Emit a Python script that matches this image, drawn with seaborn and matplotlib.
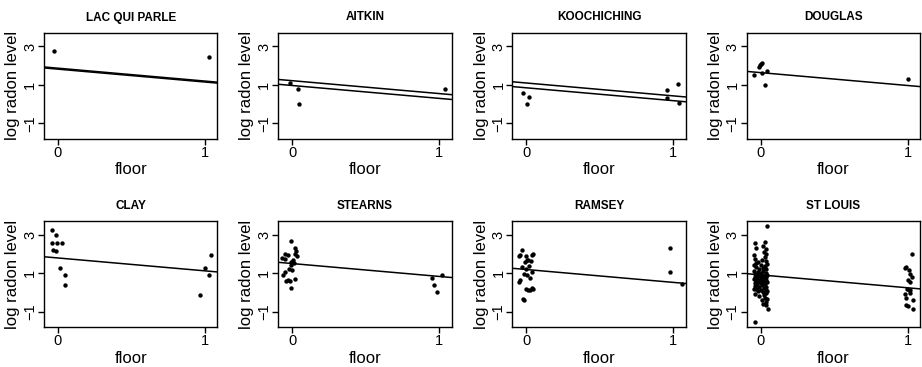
import pandas as pd
import seaborn as sns
import matplotlib.pyplot as plt

# county panels, in reading order
counties = ["LAC QUI PARLE", "AITKIN", "KOOCHICHING", "DOUGLAS",
            "CLAY", "STEARNS", "RAMSEY", "ST LOUIS"]

# fitted lines (intercepts, common slope); second line only where shown
line_a = [1.87, 1.22, 1.10, 1.64, 1.79, 1.50, 1.19, 0.91]
line_b = [1.82, 0.97, 0.85, None, None, None, None, None]
slope = -0.67

# jittered floor / log radon per county
lqp_floor = [-0.025, 1.03]
lqp_radon = [2.75, 2.44]

aitkin_floor = [-0.015, 0.04, 0.05, 1.04]
aitkin_radon = [1.09, 0.77, 0.02, 0.81]

kooch_floor = [-0.02, 0.02, 0.005, 0.96, 1.03, 0.96, 1.04]
kooch_radon = [0.56, 0.35, 0.02, 0.72, 1.07, 0.30, 0.04]

douglas_floor = [-0.046, -0.01, 0.0, 0.01, -0.005, 0.01, 0.046, 0.03, 1.0]
douglas_radon = [1.53, 1.95, 2.08, 2.12, 2.02, 1.60, 1.70, 1.02, 1.33]

clay_floor = [-0.04, -0.01, -0.04, -0.007, 0.025, -0.035, -0.01, 0.014,
              0.05, 0.05, 0.965, 1.0, 1.03, 1.04]
clay_radon = [3.25, 2.96, 2.56, 2.56, 2.56, 2.18, 2.14, 1.26,
              0.93, 0.40, -0.11, 1.26, 0.90, 1.92]

stearns_floor = [-0.007, 0.02, 0.025, 0.02, 0.03, -0.046, -0.03, -0.046,
                 0.005, -0.007, 0.01, -0.01, -0.02, 0.0, -0.046, -0.06,
                 -0.03, -0.04, -0.016, 0.02, -0.005, -0.07,
                 0.95, 0.965, 0.985, 1.02]
stearns_radon = [2.66, 2.32, 2.14, 2.01, 1.90, 2.00, 1.92, 1.75,
                 1.70, 1.57, 1.52, 1.40, 1.23, 1.18, 1.05, 0.93,
                 0.66, 0.57, 0.58, 0.71, 0.24, 1.80,
                 0.74, 0.41, 0.01, 0.92]

ramsey_floor = [-0.03, -0.04, 0.04, 0.0, 0.01, -0.01, 0.03, -0.03, 0.0,
                0.015, 0.04, -0.016, 0.007, 0.025, -0.05, 0.0, 0.012, 0.04,
                -0.016, -0.05, 0.045, 0.002, 0.022, -0.02, -0.045, 0.046,
                0.98, 0.98, 1.06]
ramsey_radon = [2.18, 1.97, 1.92, 1.87, 1.70, 1.57, 1.62, 1.31, 1.23,
                1.36, 1.05, 0.97, 0.88, 0.76, 0.53, 0.19, 0.10, 0.22,
                -0.38, 1.90, 1.99, 1.66, 0.12, -0.33, 0.62, 0.16,
                2.32, 1.05, 0.45]

stlouis_floor = [0.045, -0.04, -0.035, -0.03, 0.03, 0.02, 0.035, 0.025, 0.04,
                 0.03, -0.04, -0.02, 0.01, 0.04, 0.045, -0.045, 0.0, 0.03,
                 -0.03, 0.015, -0.01, 0.04, -0.045, 0.02, -0.02, 0.035, 0.0,
                 -0.035, 0.045, 0.01, -0.015, 0.025, -0.04, 0.04, 0.005,
                 -0.025, 0.03, -0.045, 0.015, -0.005, 0.035, -0.03, 0.02,
                 -0.015, 0.045, -0.04, 0.0, 0.028, -0.022, 0.012, -0.038,
                 0.04, -0.008, 0.022, -0.03, 0.035, 0.0, -0.02, 0.015, 0.04,
                 -0.035, 0.025, -0.01, 0.03, 0.045, 0.01, 0.035, 0.02, 0.04,
                 0.05, -0.045, -0.03, 0.045, -0.045, 0.0, 0.01,
                 1.03, 0.99, 1.01, 1.02, 1.0, 1.02, 0.995, 1.01, 1.02, 0.99,
                 1.04, 0.98, 1.03, 0.98, 0.99, 1.0, 1.04, 1.02]
stlouis_radon = [3.46, -1.56, 2.55, 2.30, 2.60, 2.40, 2.25, 2.10, 2.00,
                 1.85, 1.75, 1.60, 1.70, 1.65, 1.50, 1.45, 1.40, 1.35,
                 1.30, 1.25, 1.20, 1.22, 1.12, 1.10, 1.05, 1.02, 0.98,
                 0.95, 0.93, 0.90, 0.87, 0.85, 0.82, 0.80, 0.78,
                 0.75, 0.72, 0.70, 0.68, 0.65, 0.62, 0.60, 0.57,
                 0.55, 0.52, 0.50, 0.47, 0.44, 0.40, 0.37, 0.33,
                 0.30, 0.27, 0.22, 0.18, 0.14, 0.10, 0.05, 0.00, -0.05,
                 -0.10, -0.15, -0.20, -0.27, -0.35, -0.42, -0.50, -0.58, -0.66,
                 -0.85, 1.95, 1.55, 0.05, 0.20, 1.00, 0.60,
                 2.00, 1.31, 1.18, 0.97, 0.66, 0.53, 0.19, 0.10, -0.04, -0.28,
                 -0.42, 1.28, 0.80, -0.07, -0.68, -0.73, -0.85, 0.15]

floors = [lqp_floor, aitkin_floor, kooch_floor, douglas_floor,
          clay_floor, stearns_floor, ramsey_floor, stlouis_floor]
radons = [lqp_radon, aitkin_radon, kooch_radon, douglas_radon,
          clay_radon, stearns_radon, ramsey_radon, stlouis_radon]

frames = [pd.DataFrame({"county": c, "floor": f, "radon": r})
          for c, f, r in zip(counties, floors, radons)]
df = pd.concat(frames, ignore_index=True)

sns.set_style("ticks")
plt.rcParams["font.family"] = ["Liberation Sans", "DejaVu Sans"]
plt.rcParams["axes.edgecolor"] = "black"
plt.rcParams["axes.linewidth"] = 1.0
plt.rcParams["text.color"] = "black"
plt.rcParams["axes.labelcolor"] = "black"
plt.rcParams["axes.titlecolor"] = "black"

fig, axs = plt.subplots(2, 4, figsize=(9.22, 3.67), dpi=100)
fig.subplots_adjust(left=44 / 922, right=920 / 922, top=1 - 33 / 367,
                    bottom=1 - 327 / 367, wspace=0.35, hspace=0.78)

for i, ax in enumerate(axs.flat):
    county = counties[i]
    sub = df[df["county"] == county]
    sns.scatterplot(data=sub, x="floor", y="radon", ax=ax, color="black",
                    s=10, linewidth=0, legend=False)
    ax.axline((0, line_a[i]), slope=slope, color="black", lw=1.1)
    if line_b[i] is not None:
        ax.axline((0, line_b[i]), slope=slope, color="black", lw=1.1)

    ax.set_xlim(-0.095, 1.085)
    ax.set_ylim(-1.8, 3.7)
    ax.set_xticks([0, 1])
    ax.set_yticks([-1, 1, 3])
    ax.tick_params(axis="both", direction="out", length=4, width=1,
                   labelsize=10.5, pad=1, colors="black")
    ax.tick_params(axis="y", labelrotation=90)
    for lab in ax.get_yticklabels():
        lab.set_va("center")
    for side in ["top", "right", "left", "bottom"]:
        ax.spines[side].set_visible(True)
        ax.spines[side].set_color("black")
    ax.set_title(county, fontsize=8.5, fontweight="bold", pad=9)
    ax.set_xlabel("floor", fontsize=12, labelpad=2)
    ax.set_ylabel("log radon level", fontsize=12, labelpad=2)

fig.savefig("out.png", dpi=100)
